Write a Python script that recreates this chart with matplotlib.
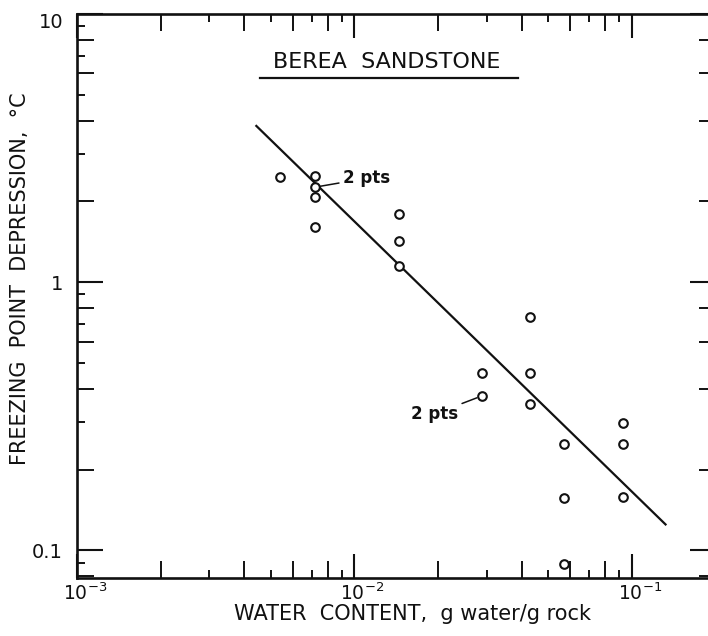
import matplotlib
matplotlib.use("Agg")
import matplotlib.pyplot as plt
from matplotlib.lines import Line2D
from matplotlib.transforms import ScaledTranslation
from matplotlib.ticker import FixedLocator, FixedFormatter, NullFormatter, NullLocator

# Measured freezing point depression vs. water content, Berea sandstone
water_content = [0.0054, 0.0072, 0.0072, 0.0072, 0.0072,
                 0.0145, 0.0145, 0.0145,
                 0.0287, 0.0287,
                 0.043, 0.043, 0.043,
                 0.057, 0.057, 0.057,
                 0.093, 0.093, 0.093]
depression = [2.46, 2.49, 2.26, 2.08, 1.60,
              1.80, 1.42, 1.15,
              0.459, 0.376,
              0.742, 0.458, 0.350,
              0.248, 0.157, 0.089,
              0.297, 0.248, 0.158]

# Fitted trend line (end points)
fit_x = [0.0044, 0.133]
fit_y = [3.85, 0.124]

# Points carrying a "2 pts" note
double_points = [(0.0072, 2.26), (0.0287, 0.376)]

x_decades = [1e-3, 1e-2, 1e-1]
x_decade_labels = ["$10^{-3}$", "$10^{-2}$", "$10^{-1}$"]
y_decades = [0.1, 1, 10]
y_decade_labels = ["0.1", "1", "10"]

INK = "#111111"
plt.rcParams["font.family"] = "DejaVu Sans"

W, H = 708, 636
fig = plt.figure(figsize=(W / 100, H / 100), dpi=100)
fig.patch.set_facecolor("white")

left_px, right_px, top_px, bottom_px = 77, 715.5, 14, 578
rect = [left_px / W, 1 - bottom_px / H, (right_px - left_px) / W, (bottom_px - top_px) / H]
ax = fig.add_axes(rect)
ax.set_xscale("log")
ax.set_yscale("log")
xlim = (1e-3, 0.2)
ylim = (0.0788, 10)
ax.set_xlim(*xlim)
ax.set_ylim(*ylim)

for s in ax.spines.values():
    s.set_linewidth(1.9)
    s.set_color(INK)


def subs(decs, mults):
    return [d * m for d in decs for m in mults]


x_decs = [1e-3, 1e-2, 1e-1]
y_decs = [0.01, 0.1, 1]

# decade ticks (long) and even sub-decade ticks (medium)
ax.xaxis.set_major_locator(FixedLocator(x_decades))
ax.xaxis.set_major_formatter(FixedFormatter(x_decade_labels))
ax.yaxis.set_major_locator(FixedLocator(y_decades))
ax.yaxis.set_major_formatter(FixedFormatter(y_decade_labels))
ax.xaxis.set_minor_locator(FixedLocator(subs(x_decs, [2, 4, 6, 8])))
ax.yaxis.set_minor_locator(FixedLocator(subs(y_decs, [2, 4, 6, 8])))
ax.xaxis.set_minor_formatter(NullFormatter())
ax.yaxis.set_minor_formatter(NullFormatter())

ax.tick_params(which="both", direction="in", top=True, right=True, color=INK)
ax.tick_params(axis="x", which="major", length=17, width=1.5)
ax.tick_params(axis="y", which="major", length=19, width=1.5)
ax.tick_params(which="minor", length=12, width=1.4)
ax.tick_params(axis="x", which="major", labelsize=13.5, pad=3.5, labelcolor=INK)
ax.tick_params(axis="y", which="major", labelsize=14, pad=10, labelcolor=INK)

# nudge decade labels the way they are lettered
for tick in ax.xaxis.get_major_ticks():
    tick.label1.set_transform(tick.label1.get_transform()
                              + ScaledTranslation(8 / 100, 0, fig.dpi_scale_trans))
top_label = ax.yaxis.get_major_ticks()[2].label1
top_label.set_transform(top_label.get_transform()
                        + ScaledTranslation(0, -6 / 100, fig.dpi_scale_trans))

# overlay axes for the short odd sub-decade ticks
ax2 = fig.add_axes(rect, frameon=False)
ax2.set_xscale("log")
ax2.set_yscale("log")
ax2.set_xlim(*xlim)
ax2.set_ylim(*ylim)
ax2.patch.set_visible(False)
ax2.xaxis.set_major_locator(FixedLocator(subs(x_decs, [3, 5, 7, 9])))
ax2.yaxis.set_major_locator(FixedLocator(subs(y_decs, [3, 5, 7, 9])))
ax2.xaxis.set_minor_locator(NullLocator())
ax2.yaxis.set_minor_locator(NullLocator())
ax2.xaxis.set_major_formatter(NullFormatter())
ax2.yaxis.set_major_formatter(NullFormatter())
ax2.tick_params(which="major", direction="in", top=True, right=True,
                length=6, width=1.4, color=INK)

# data and fit
ax.plot(fit_x, fit_y, color=INK, lw=1.6, solid_capstyle="butt", zorder=2)
ax.plot(water_content, depression, linestyle="none", marker="o", ms=6.2,
        mfc="white", mec=INK, mew=1.5, zorder=3)

# "2 pts" notes
ax.annotate("2 pts", xy=double_points[0], xytext=(0.0091, 2.44),
            ha="left", va="center", fontsize=12, color=INK, fontweight="bold",
            arrowprops=dict(arrowstyle="-", color=INK, lw=1.1, shrinkA=1, shrinkB=3.5))
ax.annotate("2 pts", xy=double_points[1], xytext=(0.0236, 0.322),
            ha="right", va="center", fontsize=12, color=INK, fontweight="bold",
            arrowprops=dict(arrowstyle="-", color=INK, lw=1.1, shrinkA=1, shrinkB=3.5))

# title with underline
ax.text(0.4855, 0.915, "BEREA  SANDSTONE", transform=ax.transAxes,
        ha="center", va="center", fontsize=16, color=INK)
ax.add_line(Line2D([0.2866, 0.6907], [0.8865, 0.8865], transform=ax.transAxes,
                   color=INK, lw=1.6))

# axis titles
fig.text(412 / W, 1 - 614 / H, "WATER  CONTENT,  g water/g rock",
         ha="center", va="center", fontsize=15, color=INK)
fig.text(20 / W, 1 - 279 / H, "FREEZING  POINT  DEPRESSION,  °C", rotation=90,
         ha="center", va="center", fontsize=15, color=INK)

fig.savefig("out.png", dpi=100, facecolor="white")
